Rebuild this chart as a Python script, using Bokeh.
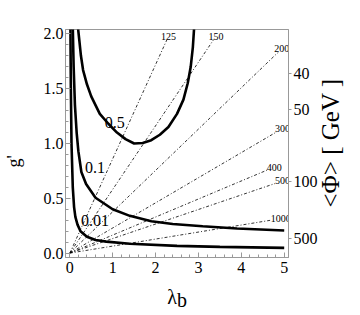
import math
from bokeh.plotting import figure
from bokeh.models import LinearAxis, FixedTicker, SingleIntervalTicker, PrintfTickFormatter
from bokeh.core.properties import value
from bokeh.embed import file_html
from bokeh.resources import INLINE

# thick contour curves (lambda_b, g')
lam_05 = [0.19, 0.22, 0.26, 0.31, 0.4, 0.5, 0.7, 0.9, 1.1, 1.3, 1.5, 1.7, 1.9, 2.1, 2.3, 2.5, 2.65, 2.75, 2.82, 2.87, 2.9]
g_05 = [2.06, 1.95, 1.8, 1.67, 1.54, 1.43, 1.27, 1.18, 1.10, 1.04, 1.0, 1.005, 1.03, 1.08, 1.15, 1.27, 1.40, 1.55, 1.70, 1.88, 2.06]
lam_01 = [0.07, 0.09, 0.12, 0.16, 0.2, 0.27, 0.38, 0.6, 1.0, 1.4, 1.9, 2.4, 3.1, 3.9, 5.0]
g_01 = [2.06, 1.7, 1.35, 1.1, 0.93, 0.74, 0.63, 0.505, 0.40, 0.34, 0.29, 0.265, 0.245, 0.225, 0.207]
lam_001 = [0.015, 0.025, 0.04, 0.07, 0.1, 0.13, 0.18, 0.25, 0.4, 0.6, 0.85, 1.4, 2.5, 3.5, 5.0]
g_001 = [2.06, 1.5, 1.0, 0.6, 0.42, 0.33, 0.26, 0.2, 0.15, 0.12, 0.105, 0.085, 0.066, 0.057, 0.048]
curve_labels = ["0.5", "0.1", "0.01"]
curve_label_lam = [1.05, 0.59, 0.59]
curve_label_g = [1.196, 0.785, 0.30]

# dash-dot lines of constant <Phi> from the origin, ending at their labels
phi_lines = [125, 150, 200, 300, 400, 500, 1000]
phi_end_lam = [2.30, 3.41, 4.94, 4.96, 4.77, 4.96, 4.92]
phi_end_g = [1.977, 1.98, 1.863, 1.137, 0.785, 0.658, 0.315]

# right axis ticks: <Phi> [GeV] at g' positions
phi_ticks = [40, 50, 100, 500]
phi_tick_pos = [1.635, 1.31, 0.65, 0.135]

FONT = "Liberation Serif"
GRAY = "#999999"
NB = "\u00a0"
EN = "\u2002"

p = figure(width=360, height=315, x_range=(-0.1, 5.1), y_range=(-0.04, 2.04),
           output_backend="svg", toolbar_location=None,
           min_border_left=62, min_border_right=69, min_border_top=29, min_border_bottom=58)
p.grid.visible = False
p.outline_line_color = GRAY
p.background_fill_color = "white"
p.border_fill_color = "white"

p.xaxis.ticker = SingleIntervalTicker(interval=1, num_minor_ticks=5)
p.yaxis.ticker = SingleIntervalTicker(interval=0.5, num_minor_ticks=5)
p.yaxis.formatter = PrintfTickFormatter(format="%.1f")
for ax in (p.xaxis[0], p.yaxis[0]):
    ax.axis_line_color = GRAY
    ax.major_tick_line_color = GRAY
    ax.minor_tick_line_color = GRAY
    ax.major_tick_in = 5
    ax.major_tick_out = 0
    ax.minor_tick_in = 3
    ax.minor_tick_out = 0
    ax.major_label_text_font = FONT
    ax.major_label_text_font_size = "16px"
    ax.major_label_text_color = "black"
    ax.axis_label_text_font = FONT
    ax.axis_label_text_font_style = "normal"
    ax.axis_label_text_color = "black"
p.yaxis.major_label_standoff = 2
p.xaxis.major_label_standoff = 4

# left label g'
p.yaxis.axis_label = "g'" + NB * 8
p.yaxis.axis_label_text_font_size = "18px"
p.yaxis.axis_label_standoff = 17

# bottom label lambda_b (b as a lowered second line)
p.xaxis.axis_label = "λ" + EN + "\n" + EN + "b"
p.xaxis.axis_label_text_font_size = "20px"
p.xaxis.axis_label_text_line_height = 0.18
p.xaxis.axis_label_standoff = 10

rax = LinearAxis(ticker=FixedTicker(ticks=phi_tick_pos, minor_ticks=[]),
                 major_label_overrides={pos: str(v) for pos, v in zip(phi_tick_pos, phi_ticks)})
rax.axis_line_color = GRAY
rax.major_tick_line_color = GRAY
rax.minor_tick_line_color = None
rax.major_tick_in = 0
rax.major_tick_out = 3
rax.major_label_standoff = 2
rax.major_label_text_font = FONT
rax.major_label_text_font_size = "16px"
rax.major_label_text_color = "black"
rax.axis_label_text_font = FONT
rax.axis_label_text_font_style = "normal"
rax.axis_label_text_color = "black"
rax.axis_label_text_font_size = "25px"
rax.axis_label_standoff = 10
props = rax.properties()
if "axis_label_orientation" in props and "axis_label_align" in props:
    # read bottom-to-top, starting near the lower end of the axis
    rax.axis_label_orientation = math.pi / 2
    rax.axis_label_align = "start"
    rax.axis_label = NB * 8 + "<Φ> [ GeV ]"
else:
    rax.axis_label = "<Φ> [ GeV ]"
p.add_layout(rax, "right")

# dash-dot lines
xs = [[0.0, le] for le in phi_end_lam]
ys = [[0.0, ge] for ge in phi_end_g]
p.multi_line(xs, ys, line_color="black", line_width=0.8, line_dash="3 2 1 2")
p.text(x=phi_end_lam, y=phi_end_g, text=[str(v) for v in phi_lines],
       text_font=value(FONT), text_font_size="10px", text_align="center",
       text_baseline="middle", text_color="black", background_fill_color="white")

# thick curves
for lx, gy in ((lam_05, g_05), (lam_01, g_01), (lam_001, g_001)):
    p.line(lx, gy, line_color="black", line_width=2.6)
p.text(x=curve_label_lam, y=curve_label_g, text=curve_labels,
       text_font=value(FONT), text_font_size="16px", text_align="center",
       text_baseline="middle", text_color="black")

open("out.html", "w").write(file_html(p, INLINE))
